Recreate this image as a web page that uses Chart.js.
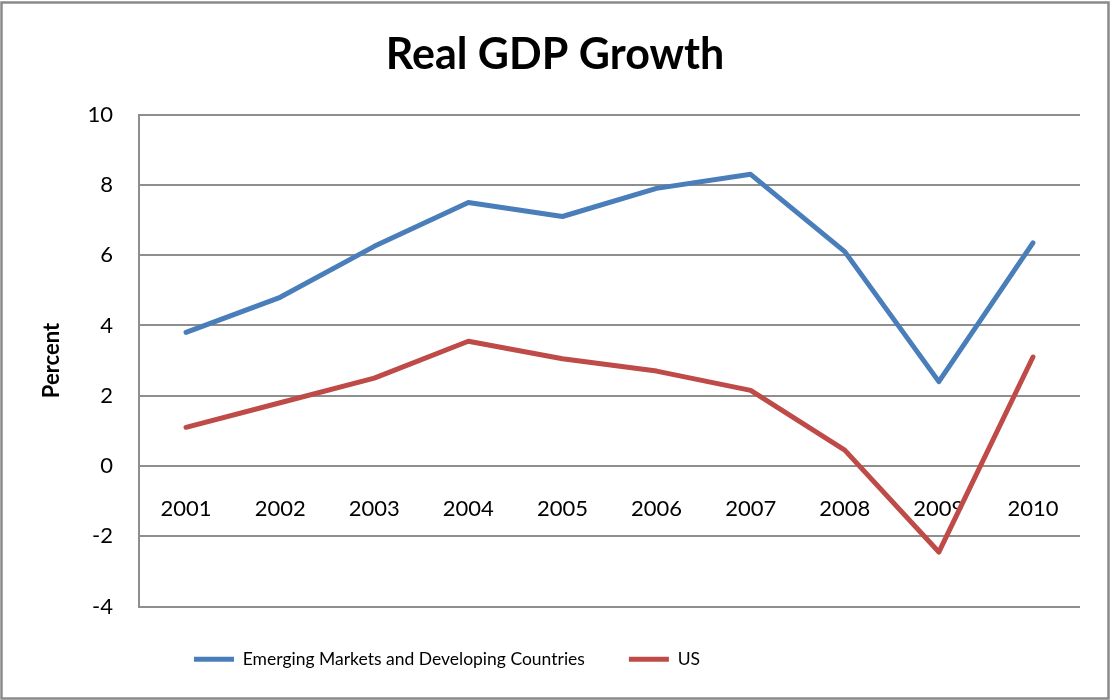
<!DOCTYPE html>
<html>
<head>
<meta charset="utf-8">
<title>Real GDP Growth</title>
<script src="https://cdn.jsdelivr.net/npm/chart.js@4.4.1/dist/chart.umd.min.js"></script>
<style>
  html, body { margin: 0; padding: 0; background: #fff; }
  #wrap { position: relative; width: 1110px; height: 700px; }
</style>
</head>
<body>
<div id="wrap"><canvas id="gdp"></canvas></div>
<script>
// years on the category axis
const years = ['2001', '2002', '2003', '2004', '2005', '2006', '2007', '2008', '2009', '2010'];

// real GDP growth, percent
const emerging = [3.8, 4.8, 6.25, 7.5, 7.1, 7.9, 8.3, 6.1, 2.4, 6.35];
const us = [1.1, 1.8, 2.5, 3.55, 3.05, 2.7, 2.15, 0.45, -2.45, 3.1];

// y axis range / step
const yMin = -4;
const yMax = 10;
const yStep = 2;

const GRID = '#8e8e8e';
const FONT = 'Lato, "Open Sans", sans-serif';

// white background + grey frame round the whole chart
const frame = {
    id: 'frame',
    beforeDraw(chart) {
        const { ctx, width, height } = chart;
        ctx.save();
        ctx.fillStyle = '#fff';
        ctx.fillRect(0, 0, width, height);
        ctx.strokeStyle = '#8a8a8a';
        ctx.lineWidth = 2.5;
        ctx.strokeRect(1.5, 2.5, width - 3, height - 4);
        ctx.restore();
    },
};

// legend sits left of centre, under the left part of the plot
const LEGEND_CENTER = 447;
const legendShift = {
    id: 'legendShift',
    afterLayout(chart) {
        const lg = chart.legend;
        if (!lg) return;
        const half = Math.min(LEGEND_CENTER, chart.width - LEGEND_CENTER);
        lg.left = LEGEND_CENTER - half;
        lg.right = LEGEND_CENTER + half;
    },
};

new Chart(document.getElementById('gdp'), {
    type: 'line',
    data: {
        labels: years,
        datasets: [
            { label: 'Emerging Markets and Developing Countries', data: emerging, borderColor: '#4A7EBB', backgroundColor: '#4A7EBB' },
            { label: 'US', data: us, borderColor: '#BE4B48', backgroundColor: '#BE4B48' },
        ],
    },
    options: {
        responsive: true,
        maintainAspectRatio: false,
        animation: false,
        datasets: {
            line: {
                borderWidth: 5,
                pointRadius: 0,
                tension: 0,
                fill: false,
                borderCapStyle: 'round',
                borderJoinStyle: 'round',
            },
        },
        layout: { padding: { left: 30, right: 30, top: 0, bottom: 22 } },
        plugins: {
            title: {
                display: true,
                text: 'Real GDP Growth',
                color: '#000',
                font: { family: FONT, size: 43, weight: 'bold' },
                padding: { top: 29, bottom: 34 },
            },
            legend: {
                position: 'bottom',
                labels: {
                    usePointStyle: true,
                    pointStyle: 'line',
                    pointStyleWidth: 40,
                    color: '#000',
                    font: { family: FONT, size: 17.5 },
                    padding: 44,
                },
            },
            tooltip: { enabled: false },
        },
        scales: {
            x: {
                position: { y: 0 },
                offset: true,
                grid: { display: false, drawTicks: false },
                border: { display: false },
                ticks: { color: '#000', font: { family: FONT, size: 22 }, padding: 30, maxRotation: 0 },
            },
            y: {
                min: yMin,
                max: yMax,
                grid: { color: GRID, lineWidth: 2, drawTicks: false },
                border: { display: true, color: GRID, width: 2 },
                ticks: { stepSize: yStep, color: '#000', font: { family: FONT, size: 22 }, padding: 26 },
                title: {
                    display: true,
                    text: 'Percent',
                    color: '#000',
                    font: { family: FONT, size: 22, weight: 'bold' },
                    padding: { top: 9, bottom: 0 },
                },
                afterFit(scale) { scale.width = 109; },
            },
        },
    },
    plugins: [frame, legendShift],
});
</script>
</body>
</html>
